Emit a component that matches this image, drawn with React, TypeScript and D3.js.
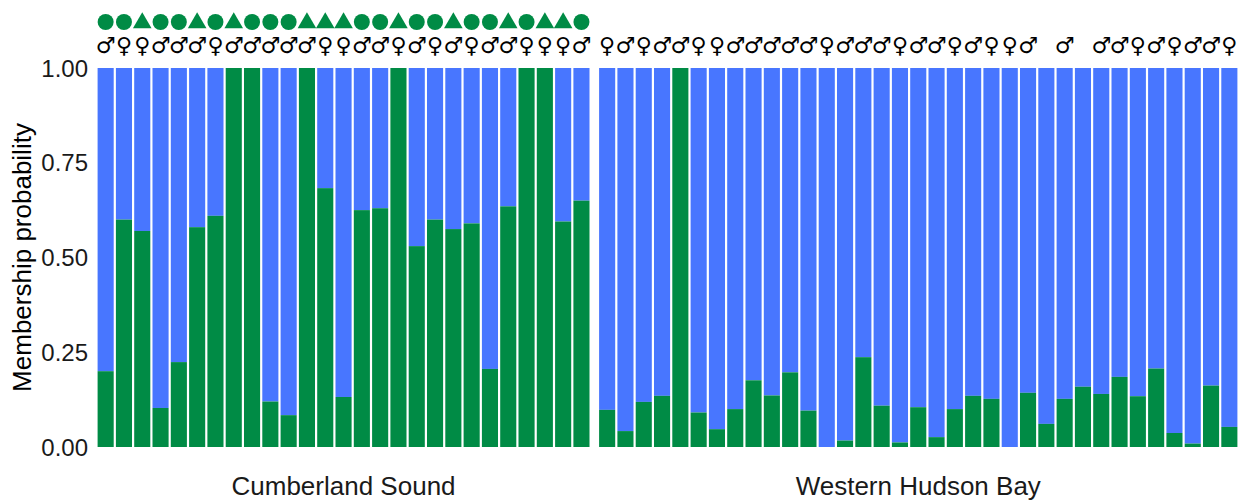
import * as d3 from 'd3';

// green = cluster 2 membership, blue fills the rest
const cumberlandGreen = [0.2, 0.6, 0.57, 0.103, 0.224, 0.58, 0.61, 1, 1, 0.12, 0.084, 1, 0.683, 0.132, 0.625, 0.63, 1, 0.53, 0.6, 0.575, 0.59, 0.206, 0.635, 1, 1, 0.595, 0.65];
const hudsonGreen = [0.098, 0.042, 0.119, 0.135, 1, 0.091, 0.047, 0.1, 0.176, 0.136, 0.197, 0.096, 0, 0.017, 0.237, 0.109, 0.012, 0.105, 0.026, 0.1, 0.135, 0.127, 0, 0.143, 0.061, 0.127, 0.159, 0.14, 0.185, 0.134, 0.207, 0.037, 0.009, 0.162, 0.053];
const cumberlandShape = ['c', 'c', 't', 'c', 'c', 't', 'c', 't', 'c', 'c', 'c', 't', 't', 't', 'c', 'c', 't', 'c', 'c', 't', 'c', 'c', 't', 'c', 't', 't', 'c'];
const cumberlandSex = ['M', 'F', 'F', 'M', 'M', 'M', 'F', 'M', 'M', 'M', 'M', 'M', 'F', 'F', 'M', 'M', 'F', 'M', 'F', 'M', 'F', 'M', 'M', 'F', 'F', 'F', 'M'];
const hudsonSex = ['F', 'M', 'F', 'M', 'M', 'F', 'F', 'M', 'M', 'M', 'M', 'M', 'F', 'M', 'M', 'M', 'F', 'M', 'M', 'F', 'M', 'F', 'F', 'M', '', 'M', '', 'M', 'M', 'F', 'M', 'F', 'M', 'M', 'F'];
const yTicks = [0, 0.25, 0.5, 0.75, 1];

const BLUE = '#4876FF';
const GREEN = '#008B45';
const FONT = '"Liberation Sans", Arial, sans-serif';

const top = 68;
const bottom = 447;
const step = 18.3;

const panels = [
  { name: 'Cumberland Sound', green: cumberlandGreen, sex: cumberlandSex, shape: cumberlandShape, x0: 96.5 },
  { name: 'Western Hudson Bay', green: hudsonGreen, sex: hudsonSex, shape: null, x0: 598 },
];

const y = d3.scaleLinear().domain([0, 1]).range([bottom, top]);
const tri = d3.symbol().type(d3.symbolTriangle).size(150);

export default function App() {
  return (
    <svg width={1249} height={501} style={{ display: 'block', position: 'absolute', left: 0, top: 0 }}>
      <rect width={1249} height={501} fill="white" />
      {yTicks.map((t) => (
        <text key={t} x={88} y={y(t)} dy="0.36em" textAnchor="end" fontFamily={FONT} fontSize={24} fill="#1a1a1a">
          {t.toFixed(2)}
        </text>
      ))}
      <text transform={`translate(31, ${(top + bottom) / 2}) rotate(-90)`} textAnchor="middle" fontFamily={FONT} fontSize={26} fill="black">
        Membership probability
      </text>
      {panels.map((p) => {
        const ids = p.green.map((_, i) => i);
        const x = d3.scaleBand<number>().domain(ids).range([p.x0, p.x0 + step * ids.length]).paddingInner(0.12).paddingOuter(0.06);
        const bw = x.bandwidth();
        return (
          <g key={p.name}>
            {ids.map((i) => (
              <g key={i}>
                <rect x={x(i)} y={y(1)} width={bw} height={y(p.green[i]) - y(1)} fill={BLUE} />
                <rect x={x(i)} y={y(p.green[i])} width={bw} height={y(0) - y(p.green[i])} fill={GREEN} />
                {p.sex[i] && (
                  <text x={(x(i) as number) + bw / 2} y={45} dy="0.35em" textAnchor="middle" fontFamily='"DejaVu Sans", sans-serif' fontSize={22} fill="black">
                    {p.sex[i] === 'M' ? '\u2642' : '\u2640'}
                  </text>
                )}
                {p.shape &&
                  (p.shape[i] === 'c' ? (
                    <circle cx={(x(i) as number) + bw / 2} cy={22} r={8} fill={GREEN} />
                  ) : (
                    <path d={tri() as string} transform={`translate(${(x(i) as number) + bw / 2}, 23)`} fill={GREEN} />
                  ))}
              </g>
            ))}
            <text x={p.x0 + (step * ids.length) / 2} y={486} dy="0.35em" textAnchor="middle" fontFamily={FONT} fontSize={26} fill="#1a1a1a">
              {p.name}
            </text>
          </g>
        );
      })}
    </svg>
  );
}
